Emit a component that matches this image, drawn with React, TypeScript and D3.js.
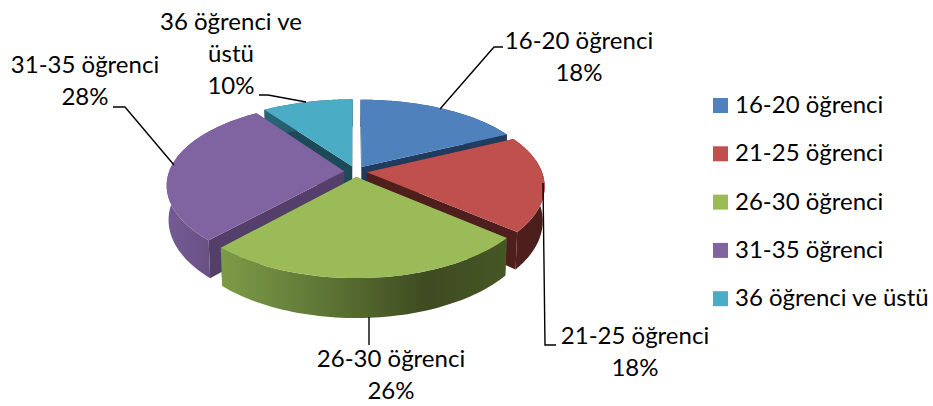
import React from "react";
import * as d3 from "d3";

const categories = ["16-20 öğrenci", "21-25 öğrenci", "26-30 öğrenci", "31-35 öğrenci", "36 öğrenci ve üstü"];
const values = [18, 18, 26, 28, 10];
const topColors = ["#4f81bd", "#c0504d", "#9bbb59", "#8064a2", "#4bacc6"];
const wallColors = ["#1f3b5e", "#4f1f1d", "#4d5f2c", "#533f69", "#1d4a58"];
const rimStops: [number, string][][] = [
  [[0, "#2a4a70"], [1, "#1f3b5e"]],
  [[0, "#4f1f1d"], [1, "#4a1d1b"]],
  [[0, "#7d9c47"], [0.35, "#5f7736"], [0.72, "#3e4b20"], [1, "#465625"]],
  [[0, "#755b94"], [1, "#5a4673"]],
  [[0, "#2a6676"], [1, "#1d4a58"]],
];
const paintOrder = [4, 0, 3, 1, 2];

const labelLines = [
  ["16-20 öğrenci", "18%"],
  ["21-25 öğrenci", "18%"],
  ["26-30 öğrenci", "26%"],
  ["31-35 öğrenci", "28%"],
  ["36 öğrenci ve", "üstü", "10%"],
];
const labelAnchors: [number, number][] = [[579, 49], [635, 344], [391, 367], [85, 73], [231, 30]];
const leaders: [number, number][][] = [
  [[440, 109], [494, 47], [503, 47]],
  [[543, 183], [545, 345], [556, 345]],
  [[369, 317], [369, 345]],
  [[174, 165], [125, 107], [113, 107]],
  [[306, 102], [268, 95], [259, 95]],
];

const FONT = "Lato, 'Open Sans', sans-serif";
const CX = 355.5, CY = 171.5, RX = 175, RY = 84, KX = 0.165, KY = 0.18, EXPLODE = 0.065, DEPTH = 33.5, TAPER = 0.99;

const scaleX = d3.scaleLinear().domain([0, 1]).range([0, RX]);
const scaleY = d3.scaleLinear().domain([0, 1]).range([0, RY]);
type P = [number, number];
const project = (u: number, v: number, low: boolean): P => {
  const sx = 1 + KX * v, sy = 1 + KY * v;
  const x = scaleX(u) * sx, y = scaleY(v) * sy;
  return low ? [CX + x * TAPER, CY + y + DEPTH * sy] : [CX + x, CY + y];
};

const line = d3.line<P>();
const pie = d3.pie<number>().sort(null).startAngle(0).endAngle(2 * Math.PI);

export default function App() {
  const arcs = pie(values);
  const shapes = arcs.map((a) => {
    const mid = (a.startAngle + a.endAngle) / 2;
    const ou = EXPLODE * Math.sin(mid), ov = -EXPLODE * Math.cos(mid);
    const steps = d3.range(0, 61).map((i) => a.startAngle + ((a.endAngle - a.startAngle) * i) / 60);
    const rim = steps.map((t): P => [ou + Math.sin(t), ov - Math.cos(t)]);
    const topArc = rim.map(([u, v]) => project(u, v, false));
    const lowArc = rim.map(([u, v]) => project(u, v, true));
    const apexT = project(ou, ov, false), apexL = project(ou, ov, true);
    return {
      top: line([apexT, ...topArc])! + "Z",
      rim: line([...topArc, ...[...lowArc].reverse()])! + "Z",
      wallA: line([apexT, topArc[0], lowArc[0], apexL])! + "Z",
      wallB: line([apexT, topArc[60], lowArc[60], apexL])! + "Z",
      x0: d3.min(topArc, (p) => p[0])!,
      x1: d3.max(topArc, (p) => p[0])!,
    };
  });
  return (
    <svg width={933} height={406} style={{ position: "absolute", left: 0, top: 0, background: "#fff" }} fontFamily={FONT}>
      <defs>
        {shapes.map((s, i) => (
          <linearGradient key={i} id={`rim${i}`} gradientUnits="userSpaceOnUse" x1={s.x0} x2={s.x1} y1={0} y2={0}>
            {rimStops[i].map(([o, c], j) => <stop key={j} offset={o} stopColor={c} />)}
          </linearGradient>
        ))}
      </defs>
      {paintOrder.map((i) => (
        <g key={i}>
          <path d={shapes[i].wallA} fill={wallColors[i]} />
          <path d={shapes[i].wallB} fill={wallColors[i]} />
          <path d={shapes[i].rim} fill={`url(#rim${i})`} />
          <path d={shapes[i].top} fill={topColors[i]} />
        </g>
      ))}
      {leaders.map((l, i) => (
        <path key={i} d={line(l)!} fill="none" stroke="#000" strokeWidth={1.4} />
      ))}
      {labelLines.map((ls, i) => (
        <text key={i} fontSize={24} fill="#000" textAnchor="middle">
          {ls.map((t, j) => (
            <tspan key={j} x={labelAnchors[i][0]} y={labelAnchors[i][1] + j * 32}>{t}</tspan>
          ))}
        </text>
      ))}
      {categories.map((c, i) => (
        <g key={c} transform={`translate(713,${98 + i * 48.3})`}>
          <rect width={15} height={15} fill={topColors[i]} />
          <text x={22} y={15} fontSize={24} fill="#000">{c}</text>
        </g>
      ))}
    </svg>
  );
}
